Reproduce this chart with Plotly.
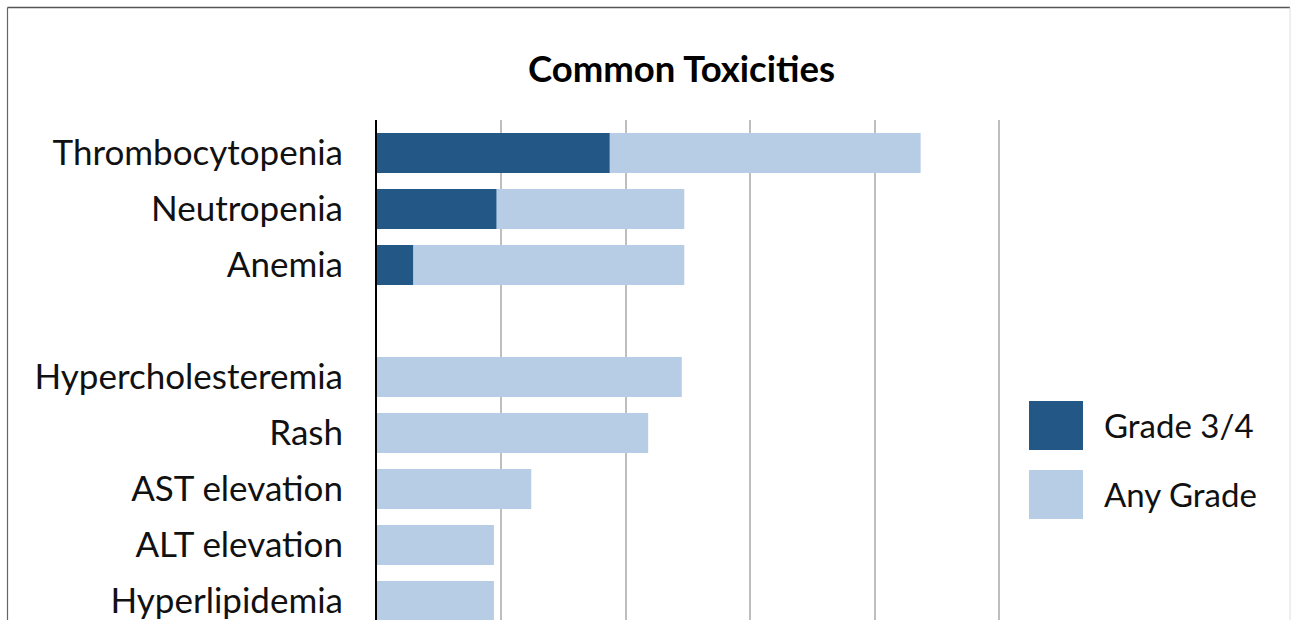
import plotly.graph_objects as go

# Toxicity incidence (%), hematologic group then non-hematologic group
categories = ["Thrombocytopenia", "Neutropenia", "Anemia", " ",
              "Hypercholesteremia", "Rash", "AST elevation", "ALT elevation",
              "Hyperlipidemia"]
any_grade = [43.7, 24.7, 24.7, None, 24.5, 21.8, 12.4, 9.4, 9.4]
grade_3_4 = [18.7, 9.6, 2.9, None, None, None, None, None, None]
series_names = ["Grade 3/4", "Any Grade"]

DARK = "#235785"
LIGHT = "#B7CCE5"
FONT = "Lato"

W, H = 1291, 620
L, R, T, B = 377, 290, 120, 0
PW, PH = W - L - R, H - T - B

fig = go.Figure()
fig.add_trace(go.Bar(y=categories, x=any_grade, orientation="h", name=series_names[1],
                     marker=dict(color=LIGHT, line=dict(width=0)), width=0.714,
                     showlegend=False))
fig.add_trace(go.Bar(y=categories, x=grade_3_4, orientation="h", name=series_names[0],
                     marker=dict(color=DARK, line=dict(width=0)), width=0.714,
                     showlegend=False))


def px_x(p):
    return (p - L) / PW


def px_y(p):
    return (H - B - p) / PH


shapes = []
# chart frame
shapes.append(dict(type="line", xref="paper", yref="paper", x0=px_x(7.5), x1=px_x(1290),
                   y0=px_y(7.5), y1=px_y(7.5), line=dict(color="#555555", width=1.5)))
shapes.append(dict(type="line", xref="paper", yref="paper", x0=px_x(7.5), x1=px_x(7.5),
                   y0=px_y(7.5), y1=px_y(625), line=dict(color="#666666", width=1.2)))
shapes.append(dict(type="line", xref="paper", yref="paper", x0=px_x(1290), x1=px_x(1290),
                   y0=px_y(7.5), y1=px_y(625), line=dict(color="#DDDDDD", width=1)))

# legend swatches and labels
annotations = []
for i, (name, col) in enumerate(zip(series_names, [DARK, LIGHT])):
    top = 401 + i * 69
    shapes.append(dict(type="rect", xref="paper", yref="paper",
                       x0=px_x(1029), x1=px_x(1083), y0=px_y(top), y1=px_y(top + 49),
                       fillcolor=col, line=dict(width=0)))
    annotations.append(dict(xref="paper", yref="paper", x=px_x(1102), y=px_y(top + 24),
                            xanchor="left", yanchor="middle", text=name, showarrow=False,
                            font=dict(family=FONT, size=33, color="#111111")))

fig.update_layout(
    width=W, height=H,
    margin=dict(l=L, r=R, t=T, b=B, pad=0),
    template="none",
    paper_bgcolor="white", plot_bgcolor="white",
    barmode="overlay",
    bargap=0.286,
    title=dict(text="<b>Common Toxicities</b>", x=681.5 / W, xanchor="center",
               xref="container", y=1 - 69 / H, yref="container", yanchor="middle",
               font=dict(family=FONT, size=36.5, color="#000000")),
    shapes=shapes,
    annotations=annotations,
    xaxis=dict(range=[0, PW / 12.44], dtick=10, tick0=0, showgrid=True,
               gridcolor="#BDBFBF", gridwidth=2, zeroline=False, showline=False,
               showticklabels=False, ticks="", automargin=False, fixedrange=True),
    yaxis=dict(type="category", categoryorder="array", categoryarray=categories,
               range=[8.339, -0.589], showgrid=False, zeroline=False,
               showline=True, linecolor="#000000", linewidth=2,
               ticks="", ticklabelstandoff=25, automargin=False,
               tickfont=dict(family=FONT, size=35, color="#111111")),
    font=dict(family=FONT),
)

fig.write_html("out.html")
